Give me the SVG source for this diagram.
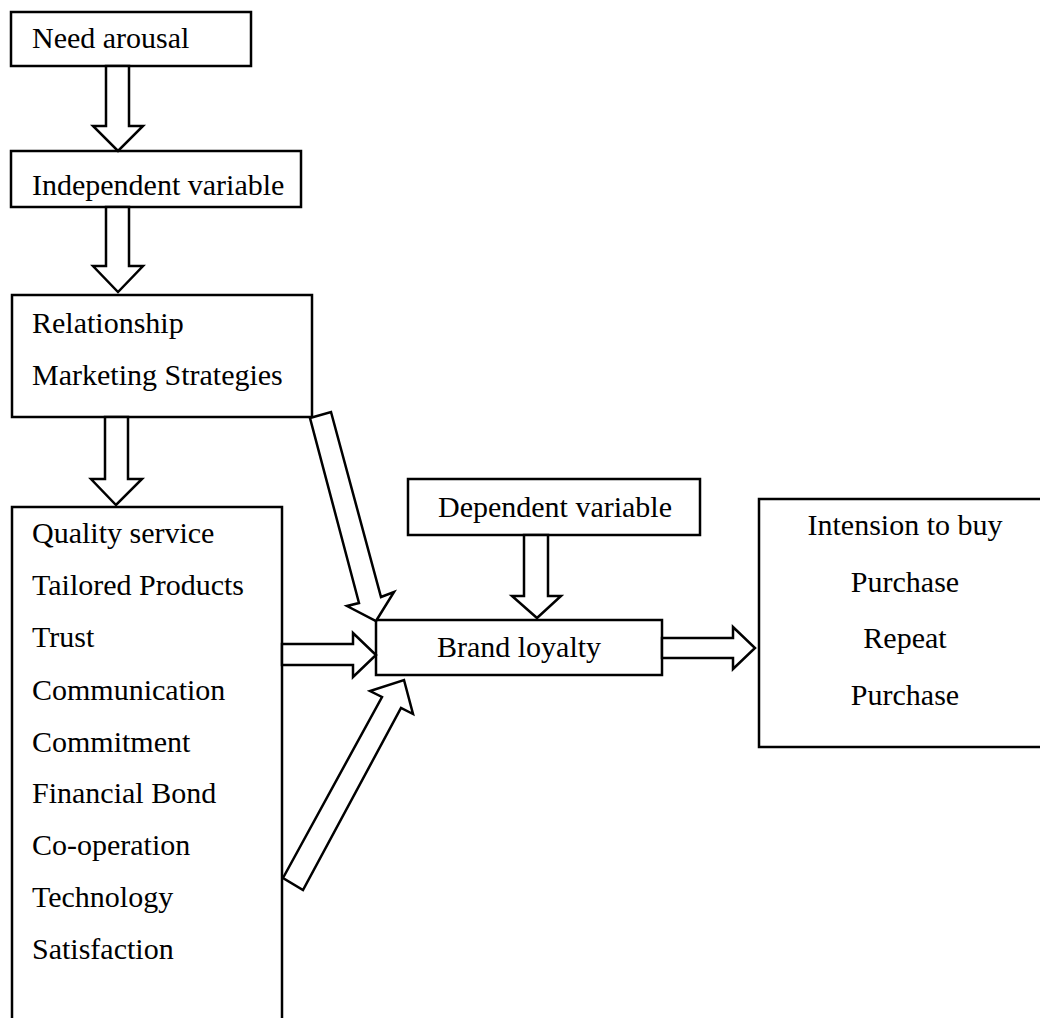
<svg xmlns="http://www.w3.org/2000/svg" width="1040" height="1018" viewBox="0 0 1040 1018">
<style>
.box{fill:#fff;stroke:#000;stroke-width:2.5}
.arr{fill:#fff;stroke:#000;stroke-width:2.5;stroke-linejoin:miter}
text{font-family:"Liberation Serif","Times New Roman",serif;font-size:30px;fill:#000}
.c{text-anchor:middle}
</style>
<rect width="1040" height="1018" fill="#fff"/>
<g id="need-arousal"><rect class="box" x="11" y="12" width="240" height="54"/><text x="32" y="48">Need arousal</text></g>
<g id="independent-variable"><rect class="box" x="11" y="151" width="290" height="56"/><text x="32" y="195">Independent variable</text></g>
<g id="relationship-marketing"><rect class="box" x="12" y="295" width="300" height="122"/><text x="32" y="333">Relationship</text><text x="32" y="385">Marketing Strategies</text></g>
<g id="factors"><rect class="box" x="12" y="507" width="270" height="530"/>
<text x="32" y="543">Quality service</text>
<text x="32" y="595">Tailored Products</text>
<text x="32" y="647">Trust</text>
<text x="32" y="700">Communication</text>
<text x="32" y="752">Commitment</text>
<text x="32" y="803">Financial Bond</text>
<text x="32" y="855">Co-operation</text>
<text x="32" y="907">Technology</text>
<text x="32" y="959">Satisfaction</text></g>
<g id="dependent-variable"><rect class="box" x="408" y="479" width="292" height="56"/><text class="c" x="555" y="517">Dependent variable</text></g>
<g id="brand-loyalty"><rect class="box" x="376" y="620" width="286" height="55"/><text class="c" x="519" y="657">Brand loyalty</text></g>
<g id="outcomes"><rect class="box" x="759" y="499" width="290" height="248"/>
<text class="c" x="905" y="535">Intension to buy</text>
<text class="c" x="905" y="592">Purchase</text>
<text class="c" x="905" y="648">Repeat</text>
<text class="c" x="905" y="705">Purchase</text></g>
<g id="connectors">
<polygon class="arr" points="106,66 129,66 129,126 143,126 118,151 93,126 106,126"/>
<polygon class="arr" points="106,207 129,207 129,266 143,266 118,292 93,266 106,266"/>
<polygon class="arr" points="105,417 128,417 128,479 142,479 116,505 91,479 105,479"/>
<polygon class="arr" points="310,418 331,412 381,597 394,592 376,621 347,606 359,603"/>
<polygon class="arr" points="282,644 353,644 353,633 376,655 353,677 353,665 282,665"/>
<polygon class="arr" points="283,878 382,697 370,691 404,680 413,714 401,708 303,890"/>
<polygon class="arr" points="524,535 548,535 548,596 561,596 537,618 512,596 524,596"/>
<polygon class="arr" points="662,638 733,638 733,627 755,648 733,669 733,658 662,658"/>
</g>
</svg>
